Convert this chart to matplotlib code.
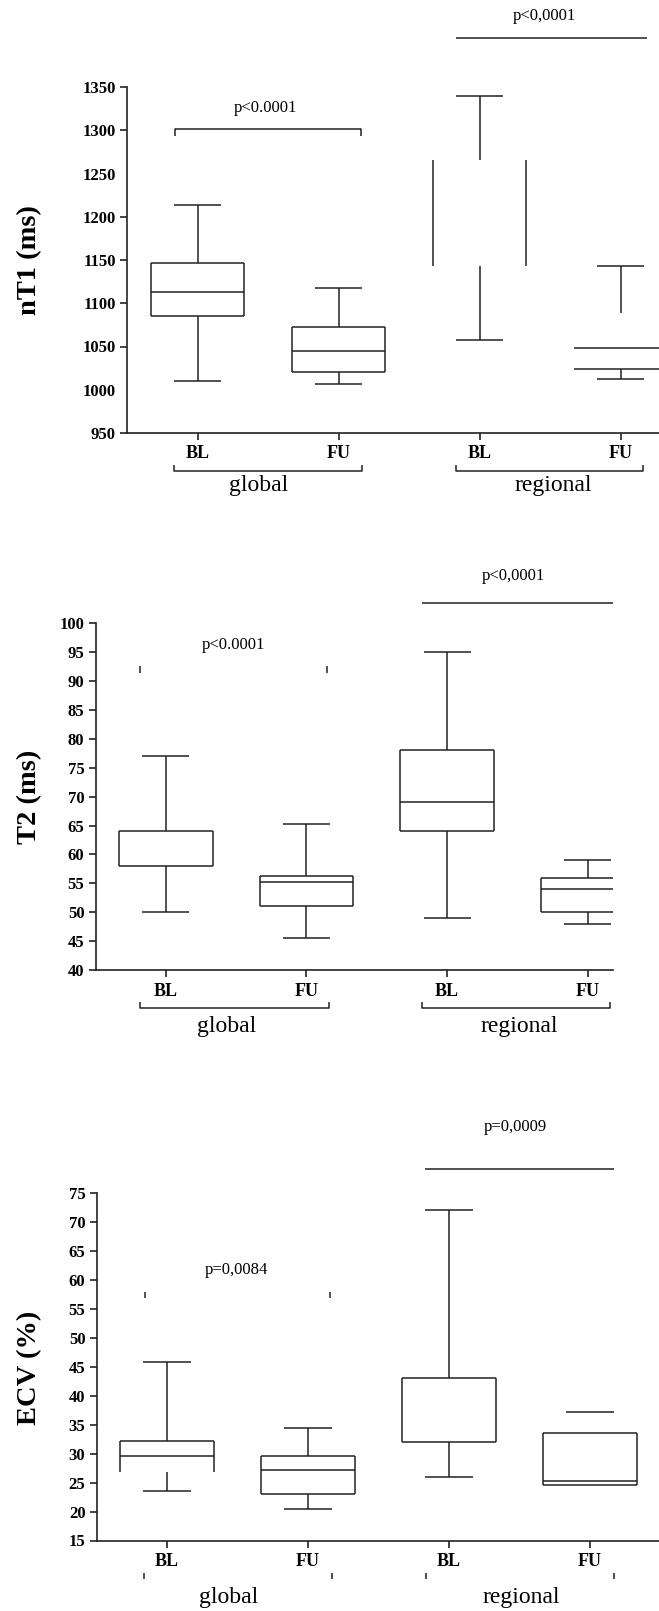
import numpy as np
import matplotlib
matplotlib.use('Agg')
import matplotlib.pyplot as plt

# ---------------- data ----------------
positions = [1, 2, 3, 4]
tick_labels = ['BL', 'FU', 'BL', 'FU']
group_labels = ['global', 'regional']

# nT1 (ms)
t1_low = [1010, 1007, 1057, 1013]
t1_q1 = [1085, 1020, 1143, 1024]
t1_med = [1113, 1045, np.nan, 1048]
t1_q3 = [1146, 1072, 1266, 1089]
t1_high = [1214, 1118, 1340, 1143]

# T2 (ms)
t2_low = [50, 45.6, 49, 48]
t2_q1 = [58, 51.1, 64, 50]
t2_med = [np.nan, 55.3, 69, 54]
t2_q3 = [64, 56.3, 78, 56]
t2_high = [77, 65.3, 95, 59]

# ECV (%)
ecv_low = [23.6, 20.4, 26.0, np.nan]
ecv_q1 = [26.9, 23.1, 32.0, 24.5]
ecv_med = [29.6, 27.1, np.nan, 25.3]
ecv_q3 = [32.2, 29.6, 43.0, 33.6]
ecv_high = [45.8, 34.4, 72.1, 37.1]

p_labels_t1 = ['p<0.0001', 'p<0,0001']
p_labels_t2 = ['p<0.0001', 'p<0,0001']
p_labels_ecv = ['p=0,0084', 'p=0,0009']

# ---------------- style ----------------
W, H = 659, 1611
plt.rcParams['font.family'] = ['Liberation Serif', 'DejaVu Serif']
LC = '#222222'
LW = 1.1
TICK_FS = 12
XT_FS = 13
GRP_FS = 17
P_FS = 12
fig = plt.figure(figsize=(W / 100, H / 100), dpi=100)


def make_axes(left_px, top_px, bottom_px, width_px, xlim, ylim, yticks, ylabel, ylabel_y):
    ax = fig.add_axes([left_px / W, 1 - bottom_px / H, width_px / W, (bottom_px - top_px) / H])
    ax.set_xlim(*xlim)
    ax.set_ylim(*ylim)
    for s in ['top', 'right']:
        ax.spines[s].set_visible(False)
    for s in ['left', 'bottom']:
        ax.spines[s].set_linewidth(1.2)
        ax.spines[s].set_color(LC)
    ax.set_yticks(yticks)
    ax.set_yticklabels([str(v) for v in yticks], fontsize=TICK_FS, fontweight='bold')
    ax.set_xticks(positions)
    ax.set_xticklabels(tick_labels, fontsize=XT_FS, fontweight='bold')
    ax.tick_params(axis='y', length=5, width=1.2, color=LC, pad=3)
    ax.tick_params(axis='x', length=5, width=1.2, color=LC, pad=4)
    fig.text(30 / W, 1 - ylabel_y / H, ylabel, rotation=90, ha='center', va='center',
             fontsize=20.5, fontweight='bold')
    ax._px = (top_px, bottom_px)
    return ax


def yf(ax, py):
    top, bottom = ax._px
    return (bottom - py) / (bottom - top)


def draw_box(ax, x, lo, q1, med, q3, hi, skip=()):
    hw, cw = 0.333, 0.167
    kw = dict(colors=LC, linewidth=LW, zorder=3)
    if 'top' not in skip:
        ax.hlines(q3, x - hw, x + hw, **kw)
    if 'bottom' not in skip:
        ax.hlines(q1, x - hw, x + hw, **kw)
    if 'left' not in skip:
        ax.vlines(x - hw, q1, q3, **kw)
    if 'right' not in skip:
        ax.vlines(x + hw, q1, q3, **kw)
    if not np.isnan(med):
        ax.hlines(med, x - hw, x + hw, **kw)
    if not np.isnan(hi):
        if 'uwhisker' not in skip:
            ax.vlines(x, q3, hi, **kw)
        ax.hlines(hi, x - cw, x + cw, **kw)
    if not np.isnan(lo):
        if 'lwhisker' not in skip:
            ax.vlines(x, lo, q1, **kw)
        ax.hlines(lo, x - cw, x + cw, **kw)


def line(ax, xs, pys):
    ax.plot(xs, [yf(ax, p) for p in pys], color=LC, lw=LW, clip_on=False,
            transform=ax.get_xaxis_transform(), solid_capstyle='butt')


def text(ax, x, py, s, size):
    ax.text(x, yf(ax, py), s, transform=ax.get_xaxis_transform(), ha='center', va='center',
            fontsize=size, clip_on=False)


# ---------------- panel 1: nT1 ----------------
ax1 = make_axes(127, 87, 433, 564, (0.5, 4.5), (950, 1350), list(range(950, 1351, 50)),
                'nT1 (ms)', 260)
skips1 = [(), (), ('top', 'bottom'), ('top', 'left')]
for i, x in enumerate(positions):
    draw_box(ax1, x, t1_low[i], t1_q1[i], t1_med[i], t1_q3[i], t1_high[i], skips1[i])
for t in ax1.yaxis.get_major_ticks():
    if t.get_loc() in (1000, 1250):
        t.tick1line.set_visible(False)
# significance
line(ax1, [0.84, 0.84, 2.157, 2.157], [136, 129, 129, 136])
text(ax1, 1.48, 108, p_labels_t1[0], P_FS)
line(ax1, [2.83, 4.19], [37.7, 37.7])
text(ax1, 3.46, 15.7, p_labels_t1[1], P_FS)
# groups
line(ax1, [0.83, 0.83, 2.17, 2.17], [465, 471, 471, 465])
line(ax1, [2.83, 2.83, 4.16, 4.16], [465, 471, 471, 465])
text(ax1, 1.436, 485, group_labels[0], GRP_FS)
text(ax1, 3.52, 485, group_labels[1], GRP_FS)

# ---------------- panel 2: T2 ----------------
ax2 = make_axes(95.5, 623.3, 970, 517.2, (0.5, 4.178), (40, 100), list(range(40, 101, 5)),
                'T2 (ms)', 797)
skips2 = [(), (), (), ()]
for i, x in enumerate(positions):
    draw_box(ax2, x, t2_low[i], t2_q1[i], t2_med[i], t2_q3[i], t2_high[i], skips2[i])
line(ax2, [0.82, 0.82], [666, 672.7])
line(ax2, [2.146, 2.146], [666, 672.7])
text(ax2, 1.48, 645, p_labels_t2[0], P_FS)
line(ax2, [2.825, 4.178], [602.7, 602.7])
text(ax2, 3.47, 575.7, p_labels_t2[1], P_FS)
line(ax2, [0.82, 0.82, 2.16, 2.16], [1001.7, 1008.3, 1008.3, 1001.7])
line(ax2, [2.825, 2.825, 4.16, 4.16], [1001.7, 1008.3, 1008.3, 1001.7])
text(ax2, 1.435, 1026.7, group_labels[0], GRP_FS)
text(ax2, 3.51, 1026.7, group_labels[1], GRP_FS)

# ---------------- panel 3: ECV ----------------
ax3 = make_axes(96.5, 1192.8, 1540.5, 564, (0.5, 4.5), (15, 75), list(range(15, 76, 5)),
                'ECV (%)', 1368)
skips3 = [('bottom',), (), (), ('uwhisker',)]
for i, x in enumerate(positions):
    draw_box(ax3, x, ecv_low[i], ecv_q1[i], ecv_med[i], ecv_q3[i], ecv_high[i], skips3[i])
line(ax3, [0.842, 0.842], [1291.6, 1298.4])
line(ax3, [2.153, 2.153], [1291.6, 1298.4])
text(ax3, 1.49, 1269.6, p_labels_ecv[0], P_FS)
line(ax3, [2.83, 4.17], [1169, 1169])
text(ax3, 3.47, 1127.4, p_labels_ecv[1], P_FS)
for gx in [0.837, 2.17, 2.84, 4.17]:
    line(ax3, [gx, gx], [1572.7, 1578.5])
text(ax3, 1.435, 1598, group_labels[0], GRP_FS)
text(ax3, 3.51, 1598, group_labels[1], GRP_FS)

fig.savefig('out.png', dpi=100)
